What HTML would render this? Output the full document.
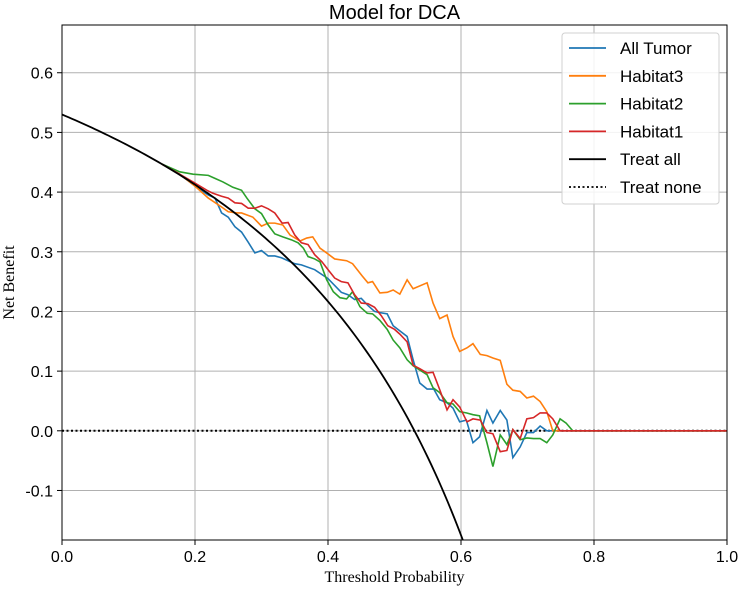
<!DOCTYPE html>
<html><head><meta charset="utf-8"><style>
html,body{margin:0;padding:0;background:#fff;overflow:hidden;width:738px;height:590px}
svg{display:block}
svg text{font-family:"Liberation Sans","DejaVu Sans",sans-serif}
</style></head><body>
<svg id="c" width="738" height="590" xmlns="http://www.w3.org/2000/svg"></svg>
<script>
const xTicks=[0,0.2,0.4,0.6,0.8,1.0];
const xTickLabels=["0.0","0.2","0.4","0.6","0.8","1.0"];
const yTicks=[-0.1,0,0.1,0.2,0.3,0.4,0.5,0.6];
const yTickLabels=["-0.1","0.0","0.1","0.2","0.3","0.4","0.5","0.6"];
const prevalence=0.53;
const seriesNames=["All Tumor","Habitat3","Habitat2","Habitat1"];
const seriesColors=["#1f77b4","#ff7f0e","#2ca02c","#d62728"];
const tAll=[0.15,0.177,0.2,0.22,0.23,0.24,0.25,0.26,0.27,0.28,0.29,0.30,0.31,0.32,0.33,0.34,0.35,0.36,0.38,0.40,0.42,0.43,0.44,0.45,0.46,0.47,0.478,0.489,0.498,0.519,0.528,0.538,0.549,0.559,0.568,0.579,0.588,0.598,0.608,0.618,0.628,0.639,0.648,0.659,0.669,0.678,0.689,0.699,0.709,0.719,0.729,0.74,1.0];
const vAll=[0.447,0.43,0.41,0.395,0.39,0.365,0.358,0.342,0.333,0.316,0.298,0.302,0.293,0.293,0.29,0.285,0.28,0.278,0.27,0.255,0.232,0.228,0.22,0.222,0.21,0.2,0.198,0.196,0.176,0.158,0.119,0.08,0.07,0.07,0.052,0.047,0.038,0.015,0.018,-0.02,-0.01,0.034,0.013,0.034,0.018,-0.045,-0.027,-0.003,-0.003,0.008,0,0,0];
const tH3=[0.15,0.177,0.2,0.22,0.24,0.25,0.263,0.27,0.287,0.30,0.31,0.32,0.332,0.343,0.358,0.368,0.377,0.388,0.398,0.41,0.428,0.437,0.451,0.46,0.467,0.478,0.489,0.498,0.508,0.519,0.528,0.549,0.558,0.568,0.579,0.588,0.598,0.609,0.618,0.629,0.639,0.648,0.659,0.669,0.678,0.689,0.699,0.709,0.719,0.729,0.738,1.0];
const vH3=[0.447,0.43,0.41,0.39,0.375,0.367,0.365,0.365,0.358,0.343,0.348,0.348,0.345,0.328,0.318,0.323,0.325,0.306,0.298,0.288,0.285,0.28,0.26,0.248,0.25,0.231,0.232,0.236,0.229,0.253,0.238,0.248,0.214,0.188,0.194,0.158,0.133,0.139,0.146,0.128,0.126,0.122,0.118,0.078,0.068,0.066,0.055,0.058,0.049,0.032,0,0];
const tH2=[0.15,0.177,0.197,0.22,0.23,0.242,0.257,0.27,0.278,0.29,0.30,0.31,0.32,0.332,0.345,0.355,0.363,0.37,0.38,0.388,0.398,0.408,0.418,0.428,0.437,0.448,0.459,0.467,0.478,0.489,0.498,0.508,0.519,0.528,0.549,0.558,0.568,0.579,0.588,0.598,0.608,0.618,0.628,0.639,0.648,0.659,0.669,0.678,0.689,0.699,0.709,0.719,0.729,0.738,0.749,0.758,0.768,1.0];
const vH2=[0.447,0.434,0.43,0.428,0.423,0.417,0.408,0.403,0.39,0.372,0.364,0.345,0.33,0.325,0.32,0.315,0.306,0.292,0.288,0.283,0.253,0.233,0.223,0.221,0.233,0.208,0.197,0.196,0.185,0.17,0.152,0.139,0.119,0.109,0.094,0.072,0.064,0.047,0.045,0.032,0.03,0.027,0.025,-0.02,-0.06,-0.007,-0.023,0.002,-0.015,-0.012,-0.013,-0.013,-0.02,-0.007,0.02,0.013,0,0];
const tH1=[0.15,0.177,0.197,0.218,0.227,0.24,0.25,0.26,0.27,0.28,0.29,0.30,0.31,0.32,0.331,0.34,0.35,0.36,0.37,0.38,0.391,0.40,0.41,0.42,0.43,0.44,0.45,0.46,0.47,0.48,0.49,0.50,0.508,0.519,0.528,0.538,0.549,0.558,0.568,0.579,0.588,0.598,0.609,0.618,0.629,0.639,0.648,0.659,0.669,0.678,0.689,0.699,0.709,0.719,0.729,0.738,0.749,1.0];
const vH1=[0.447,0.43,0.417,0.403,0.398,0.393,0.39,0.382,0.381,0.373,0.373,0.377,0.372,0.365,0.348,0.349,0.328,0.315,0.312,0.295,0.283,0.27,0.256,0.25,0.248,0.228,0.214,0.213,0.207,0.193,0.176,0.17,0.162,0.149,0.11,0.104,0.097,0.098,0.069,0.035,0.052,0.04,0.015,0.02,0.018,-0.003,-0.005,-0.035,-0.033,0.002,-0.013,0.02,0.022,0.03,0.03,0.02,0,0];
const tSeries=[tAll,tH3,tH2,tH1];
const vSeries=[vAll,vH3,vH2,vH1];

const L=62,R=727,T=25,B=540,YMIN=-0.183,YMAX=0.68;
const sx=t=>L+(R-L)*t;
const sy=v=>B-(B-T)*(v-YMIN)/(YMAX-YMIN);
const NS="http://www.w3.org/2000/svg";
const svg=document.getElementById('c');
function mk(tag,attrs,parent){const e=document.createElementNS(NS,tag);for(const k in attrs)e.setAttribute(k,attrs[k]);(parent||svg).appendChild(e);return e;}
const defs=mk('defs',{});const cp=mk('clipPath',{id:'pc'},defs);mk('rect',{x:L,y:T,width:R-L,height:B-T},cp);
xTicks.forEach((t,i)=>{
 const g=mk('line',{x1:sx(t),x2:sx(t),y1:T,y2:B,stroke:'#b0b0b0','stroke-width':1});
 
 
 mk('line',{x1:sx(t),x2:sx(t),y1:B,y2:B+5,stroke:'#000'});
 const tx=mk('text',{x:sx(t),y:B+22,'text-anchor':'middle','font-size':16});
 tx.textContent=xTickLabels[i];
 
 
});
yTicks.forEach((v,i)=>{
 const g=mk('line',{x1:L,x2:R,y1:sy(v),y2:sy(v),stroke:'#b0b0b0','stroke-width':1});
 
 
 mk('line',{x1:L-5,x2:L,y1:sy(v),y2:sy(v),stroke:'#000'});
 const tx=mk('text',{x:L-9,y:sy(v)+6,'text-anchor':'end','font-size':16});
 tx.textContent=yTickLabels[i];
 
 
});
const pg=mk('g',{'clip-path':'url(#pc)'});
const tn=mk('line',{x1:sx(0),x2:sx(1),y1:sy(0),y2:sy(0),stroke:'#000','stroke-width':2,'stroke-dasharray':'2,2.5'},pg);


seriesNames.forEach((n,k)=>{
 const ts=tSeries[k],vs=vSeries[k];
 const p=mk('polyline',{points:ts.map((t,i)=>sx(t)+','+sy(vs[i])).join(' '),fill:'none',stroke:seriesColors[k],'stroke-width':1.6},pg);
 
 
});
let pts=[];for(let i=0;i<=122;i++){const t=i*0.005;pts.push(sx(t)+','+sy(prevalence-(1-prevalence)*t/(1-t)));}
const ta=mk('polyline',{points:pts.join(' '),fill:'none',stroke:'#000','stroke-width':1.8},pg);


const fr=mk('rect',{x:L,y:T,width:R-L,height:B-T,fill:'none',stroke:'#000','stroke-width':1});


const ti=mk('text',{x:(L+R)/2,y:19,'text-anchor':'middle','font-size':20});
ti.textContent='Model for DCA';


const xl=mk('text',{x:(L+R)/2,y:582,'text-anchor':'middle','font-size':16,style:'font-family:"Liberation Serif",serif'});
xl.textContent='Threshold Probability';


const yl=mk('text',{x:0,y:0,'text-anchor':'middle','font-size':16,transform:'translate(14,'+((T+B)/2)+') rotate(-90)',style:'font-family:"Liberation Serif",serif'});
yl.textContent='Net Benefit';


const lg=mk('g',{});


mk('rect',{x:562,y:33,width:157,height:171,rx:3,fill:'#fff','fill-opacity':0.85,stroke:'#d0d0d0'},lg);
const lNames=seriesNames.concat(['Treat all','Treat none']);
const lColors=seriesColors.concat(['#000','#000']);
lNames.forEach((n,i)=>{
 const y=48+i*27.8;
 const ln=mk('line',{x1:569,x2:606,y1:y,y2:y,stroke:lColors[i],'stroke-width':1.8},lg);
 if(i==5)ln.setAttribute('stroke-dasharray','2,2.5');
 const tx=mk('text',{x:620,y:y+6,'font-size':17},lg);
 tx.textContent=n;
 
 
});
</script>
</body></html>
